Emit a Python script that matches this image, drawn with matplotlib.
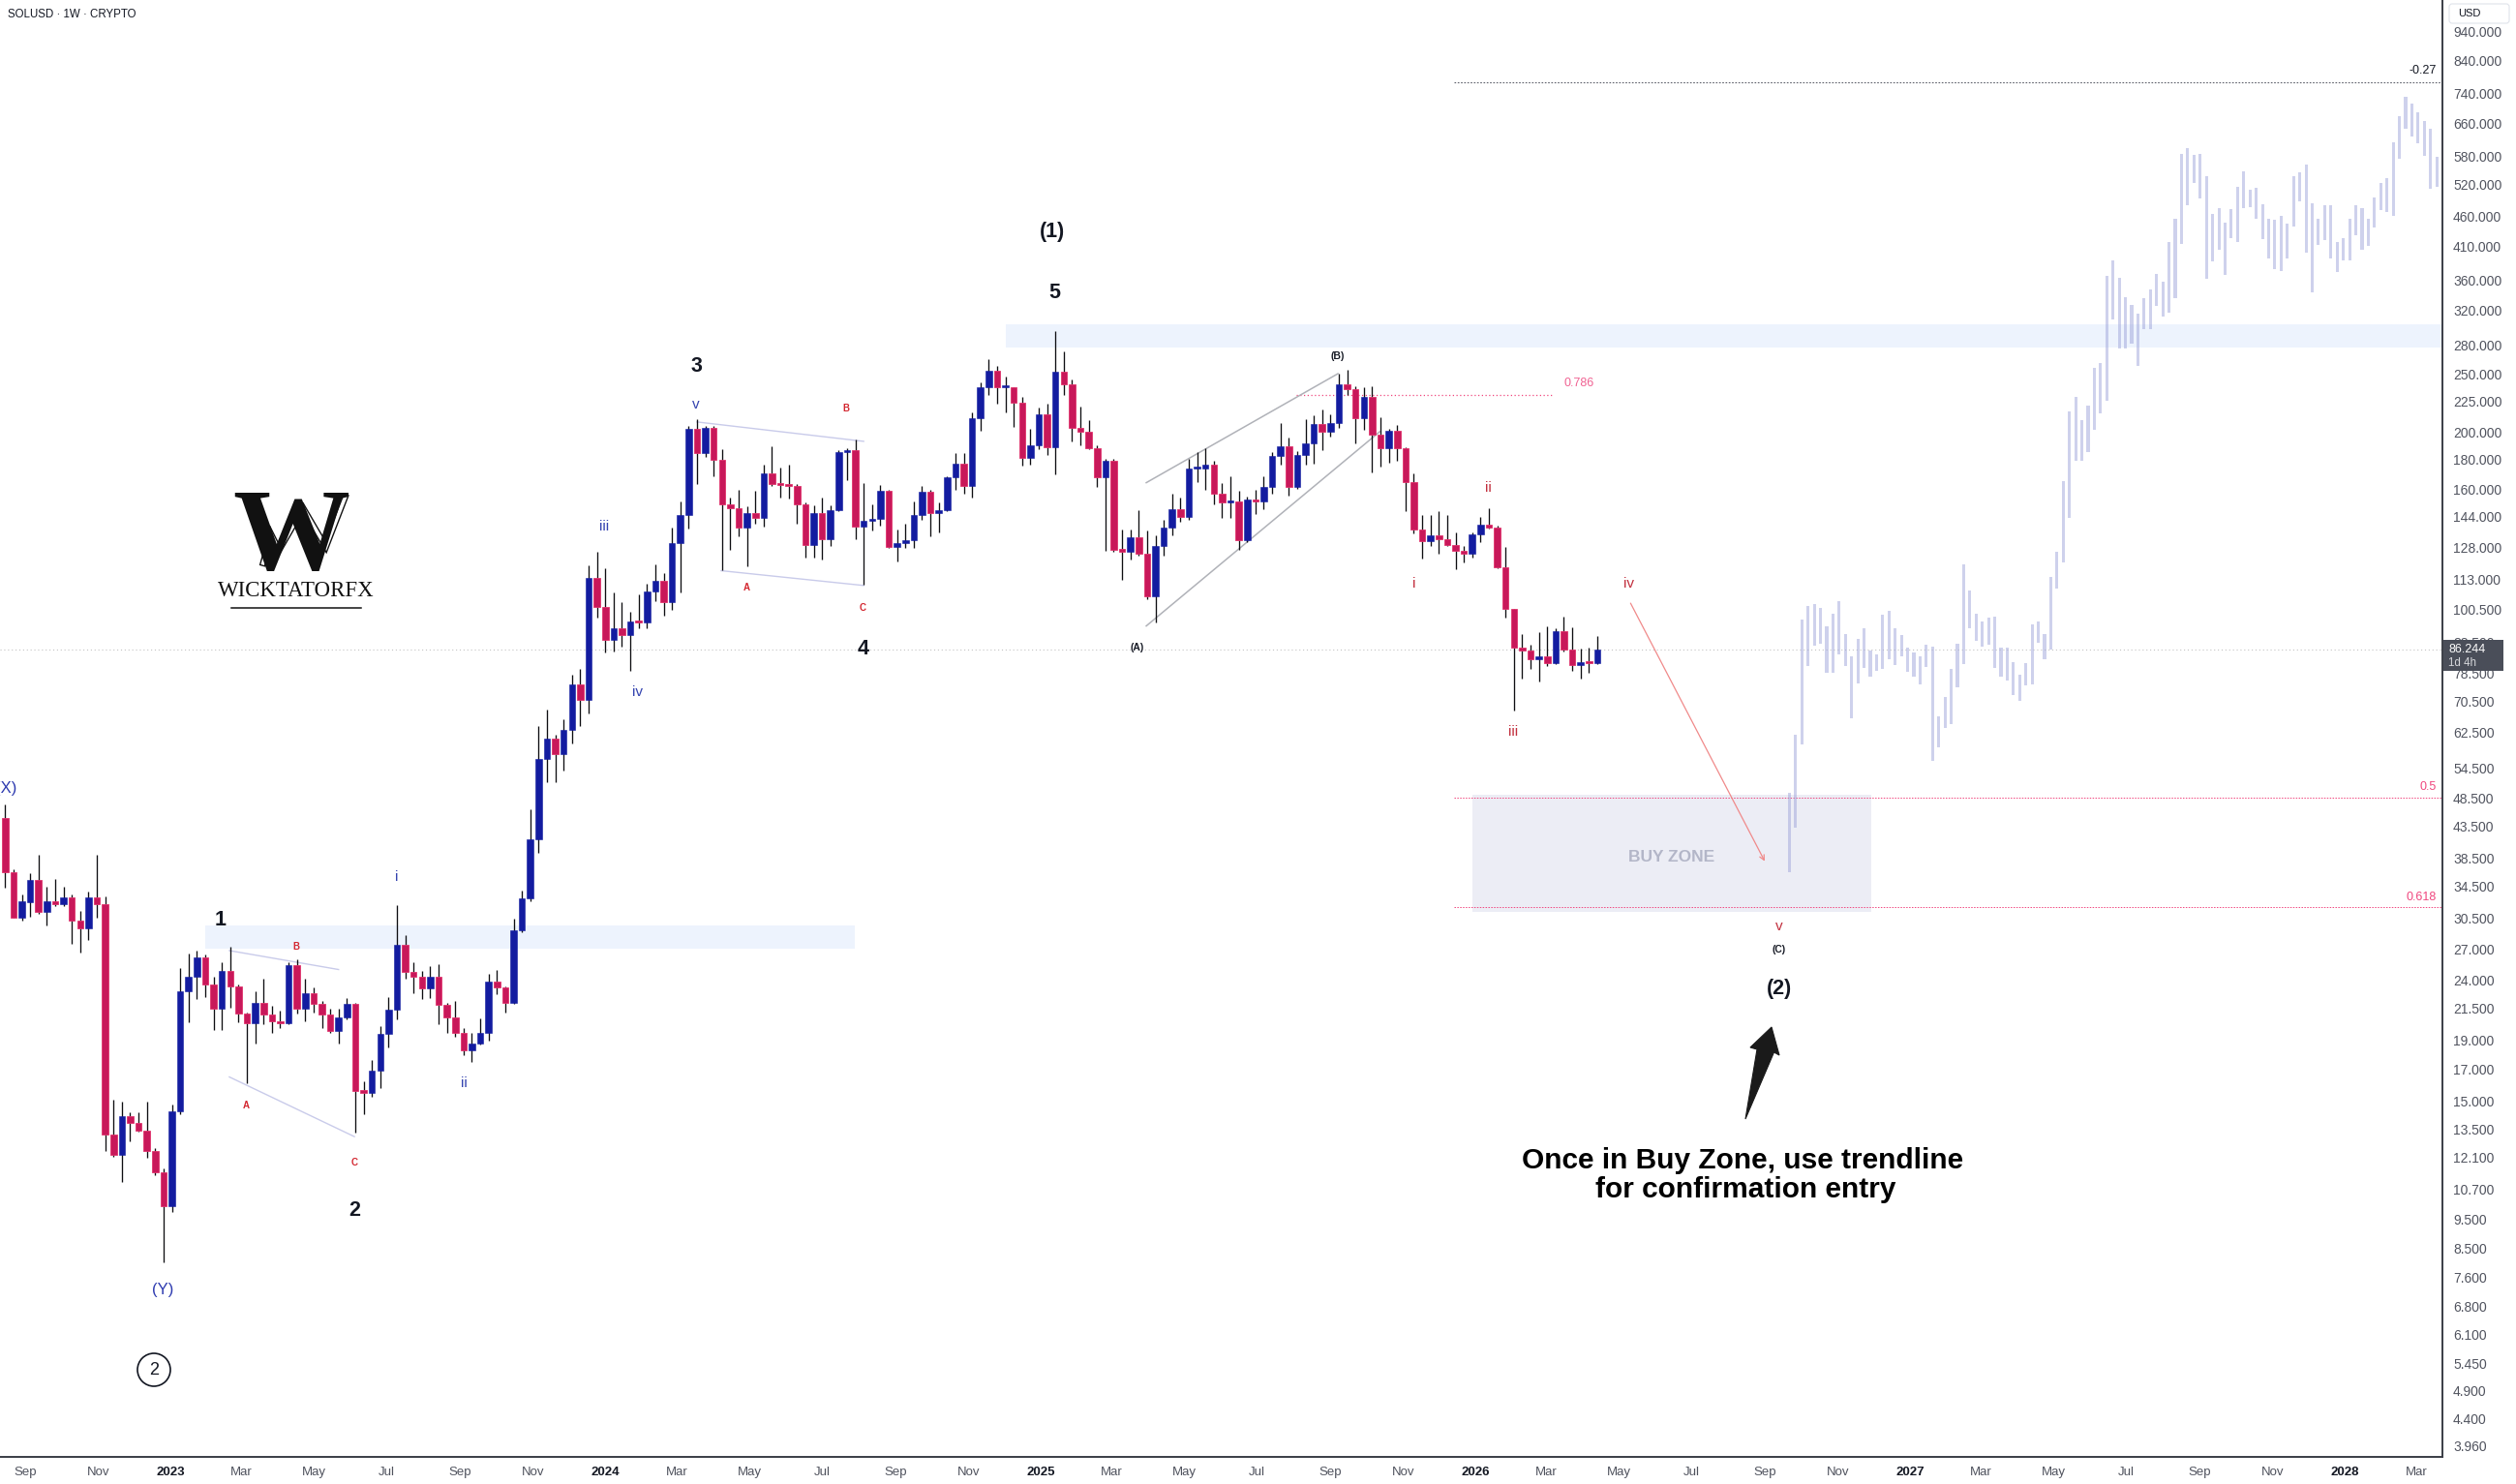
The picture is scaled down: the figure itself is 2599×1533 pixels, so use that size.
import datetime as dt
import numpy as np
import matplotlib
matplotlib.use("Agg")
import matplotlib.pyplot as plt
import matplotlib.patheffects as pe
from matplotlib.patches import Polygon, Circle, Rectangle, FancyBboxPatch
from matplotlib.ticker import NullLocator

W_PX, H_PX = 2599, 1533
START = dt.date(2022, 8, 15)  # first weekly candle (x = 0)

# ---- weekly SOLUSD candles ----
opens = [
    44.9, 36.4, 30.6, 32.4, 35.3, 31.3, 32.6, 32.2, 33.0, 30.2,
    29.3, 33.0, 32.2, 13.2, 12.2, 14.2, 13.8, 13.4, 12.4, 11.4,
    10.0, 14.45, 23.0, 24.3, 26.2, 23.6, 21.5, 24.9, 23.4, 21.1,
    20.3, 22.0, 21.0, 20.5, 20.3, 25.4, 21.5, 22.8, 21.9, 21.0,
    19.7, 20.8, 21.9, 15.7, 15.5, 16.9, 19.5, 21.4, 27.5, 24.8,
    24.3, 23.2, 24.3, 21.8, 20.8, 19.6, 18.3, 18.8, 19.6, 23.9,
    23.3, 22.0, 29.1, 32.9, 41.4, 56.4, 61.1, 57.5, 63.2, 75.2,
    70.8, 113.6, 101.7, 89.5, 93.7, 91.2, 96.1, 95.8, 107.9, 112.3,
    103.6, 130.3, 144.9, 202.0, 184.0, 203.3, 179.8, 151.3, 148.9, 138.0,
    145.9, 143.6, 170.1, 163.3, 163.0, 162.1, 151.3, 129.0, 146.0, 132.1,
    148.0, 185.0, 186.0, 138.7, 141.7, 142.9, 159.2, 128.3, 130.3, 131.4,
    145.1, 158.6, 146.0, 147.6, 167.8, 176.7, 162.1, 210.6, 237.7, 253.1,
    237.4, 237.6, 224.2, 180.6, 189.9, 213.8, 188.7, 252.4, 240.6, 203.3,
    200.3, 188.0, 168.0, 178.8, 126.6, 126.0, 133.0, 124.7, 106.0, 128.7,
    138.1, 148.4, 143.9, 173.5, 173.6, 176.2, 157.5, 152.2, 153.0, 131.7,
    154.0, 152.9, 161.4, 182.2, 189.2, 161.8, 182.9, 191.5, 206.4, 200.3,
    207.2, 240.6, 236.2, 211.1, 229.0, 197.6, 188.0, 200.9, 187.6, 164.5,
    137.2, 130.9, 133.9, 132.2, 129.3, 126.1, 125.0, 134.4, 139.7, 138.1,
    118.6, 100.7, 86.9, 85.96, 82.9, 83.8, 81.7, 92.4, 86.3, 81.3,
    82.1, 81.8,
]
highs = [
    47.4, 36.8, 33.4, 36.3, 39.0, 34.5, 35.5, 34.5, 33.4, 31.4,
    33.8, 38.9, 33.2, 15.1, 15.0, 14.4, 14.4, 15.0, 12.55, 11.6,
    14.85, 25.1, 26.6, 26.9, 26.5, 24.3, 25.7, 27.3, 23.6, 21.2,
    23.0, 24.1, 21.7, 21.3, 25.7, 26.0, 24.1, 23.3, 22.1, 21.5,
    21.5, 22.4, 22.0, 16.2, 17.6, 20.1, 22.5, 32.1, 28.6, 25.7,
    24.9, 25.3, 25.5, 22.0, 22.1, 19.9, 19.6, 20.7, 24.6, 25.0,
    23.4, 30.4, 33.9, 46.5, 64.1, 68.3, 62.0, 65.8, 78.1, 80.0,
    119.5, 126.0, 117.8, 107.6, 103.5, 99.7, 106.6, 111.1, 119.9, 115.9,
    137.9, 152.7, 205.0, 209.7, 204.6, 205.0, 187.3, 155.2, 160.1, 149.9,
    159.0, 176.3, 188.8, 174.0, 176.3, 163.3, 152.0, 150.5, 155.0, 150.5,
    186.0, 188.0, 194.4, 164.1, 151.3, 162.7, 159.6, 137.3, 140.3, 152.7,
    162.1, 159.6, 152.3, 168.5, 184.0, 184.0, 215.7, 242.2, 265.0, 258.5,
    247.7, 238.0, 229.0, 202.1, 219.8, 223.4, 295.3, 272.8, 245.2, 220.6,
    209.3, 189.9, 180.0, 180.5, 136.9, 136.9, 147.9, 136.7, 134.2, 142.5,
    157.5, 154.9, 180.2, 185.2, 188.0, 178.9, 163.8, 168.3, 159.1, 155.5,
    160.1, 168.3, 185.2, 207.2, 195.9, 185.9, 210.3, 213.0, 218.3, 213.8,
    250.5, 254.6, 238.3, 237.7, 238.3, 211.4, 202.5, 205.4, 188.7, 170.1,
    145.1, 145.0, 147.1, 145.0, 135.6, 128.6, 135.6, 144.0, 148.9, 139.0,
    128.1, 101.0, 91.5, 87.8, 92.1, 94.4, 93.7, 98.0, 93.8, 86.4,
    86.9, 90.7,
]
lows = [
    34.3, 30.5, 30.2, 30.7, 31.0, 29.6, 32.0, 32.0, 27.6, 26.7,
    28.0, 30.6, 12.4, 12.1, 11.0, 12.85, 13.35, 12.06, 11.3, 8.05,
    9.8, 14.3, 20.4, 22.3, 22.5, 19.8, 19.8, 21.6, 20.4, 16.1,
    18.8, 20.2, 19.6, 19.9, 20.2, 21.1, 20.5, 21.2, 19.9, 19.6,
    18.8, 20.6, 13.3, 14.3, 15.3, 15.8, 18.5, 20.6, 24.1, 22.8,
    22.3, 22.4, 20.2, 19.6, 19.3, 17.95, 17.5, 18.7, 19.0, 22.7,
    21.2, 21.9, 28.9, 32.6, 39.3, 51.6, 51.6, 54.0, 59.9, 64.0,
    67.3, 97.6, 85.3, 85.6, 87.2, 79.3, 93.5, 93.6, 104.1, 98.4,
    100.6, 107.5, 137.5, 163.3, 181.5, 168.5, 117.3, 126.8, 133.7, 119.0,
    140.3, 138.6, 162.1, 155.0, 154.5, 140.3, 123.2, 123.2, 122.1, 128.6,
    147.0, 166.0, 132.1, 110.6, 136.8, 139.3, 127.6, 121.0, 127.6, 127.6,
    142.4, 133.7, 135.8, 147.0, 159.6, 157.6, 155.3, 200.5, 230.4, 222.8,
    215.7, 204.1, 175.5, 176.2, 186.8, 182.9, 169.7, 230.4, 193.0, 189.9,
    186.9, 161.4, 126.1, 125.8, 112.7, 122.2, 124.0, 104.6, 95.8, 123.9,
    134.2, 141.2, 142.4, 164.9, 160.0, 151.3, 143.6, 143.3, 126.6, 130.5,
    145.7, 148.5, 157.5, 176.2, 156.5, 160.5, 176.2, 176.6, 186.5, 196.4,
    203.0, 230.4, 191.5, 201.6, 171.2, 175.0, 177.6, 178.9, 147.1, 134.9,
    122.4, 128.6, 124.7, 128.5, 117.5, 120.8, 123.0, 130.5, 137.5, 117.8,
    97.4, 68.0, 77.0, 80.1, 76.1, 80.8, 81.5, 85.5, 79.5, 77.1,
    78.8, 81.5,
]
closes = [
    36.4, 30.6, 32.5, 35.3, 31.3, 32.6, 32.2, 33.0, 30.2, 29.3,
    33.0, 32.2, 13.2, 12.2, 14.2, 13.8, 13.4, 12.4, 11.4, 10.0,
    14.45, 23.0, 24.3, 26.2, 23.6, 21.5, 24.9, 23.4, 21.1, 20.3,
    22.0, 21.0, 20.5, 20.3, 25.4, 21.5, 22.8, 21.9, 21.0, 19.7,
    20.8, 21.9, 15.6, 15.5, 16.9, 19.5, 21.4, 27.5, 24.8, 24.3,
    23.2, 24.3, 21.8, 20.8, 19.6, 18.3, 18.8, 19.6, 23.9, 23.3,
    22.0, 29.1, 32.9, 41.4, 56.4, 61.1, 57.5, 63.2, 75.2, 70.8,
    113.6, 101.7, 89.5, 93.7, 91.2, 96.1, 95.8, 107.9, 112.3, 103.6,
    130.3, 144.9, 202.0, 184.0, 203.3, 179.8, 151.3, 148.9, 138.0, 145.9,
    143.6, 170.1, 163.3, 163.0, 162.1, 151.3, 129.0, 146.0, 132.1, 148.0,
    185.0, 186.0, 138.7, 141.7, 142.9, 159.2, 128.3, 130.3, 131.4, 145.1,
    158.6, 146.0, 147.6, 167.8, 176.7, 162.1, 210.6, 237.7, 253.1, 237.4,
    237.6, 224.2, 180.6, 189.9, 213.8, 188.7, 252.4, 240.6, 203.3, 200.3,
    188.0, 168.0, 178.8, 126.6, 126.0, 133.0, 124.7, 106.0, 128.7, 138.1,
    148.4, 143.9, 173.5, 173.6, 176.2, 157.5, 152.2, 153.0, 131.7, 154.0,
    152.9, 161.4, 182.2, 189.2, 161.8, 182.9, 191.5, 206.4, 200.3, 207.2,
    240.6, 236.2, 211.1, 229.0, 197.6, 188.0, 200.9, 187.6, 164.5, 137.2,
    130.9, 133.9, 132.2, 129.3, 126.1, 125.0, 134.4, 139.7, 138.1, 118.6,
    100.7, 86.9, 85.96, 82.9, 83.8, 81.7, 92.4, 86.3, 81.3, 82.1,
    81.8, 86.244,
]

# ---- projected path (light bars): low / high of each bar ----
proj_lo = [
    36.4, 43.3, 59.7, 81.0, 87.6, 88.1, 78.8, 78.8, 84.6, 81.0,
    66.0, 75.6, 80.3, 77.6, 79.4, 80.0, 83.0, 81.1, 83.9, 79.1,
    77.6, 75.3, 80.6, 56.0, 59.1, 63.6, 64.6, 74.5, 81.6, 93.5,
    89.1, 87.2, 87.8, 80.3, 77.6, 76.4, 72.3, 70.6, 75.0, 75.3,
    88.4, 83.0, 86.2, 109.1, 120.5, 143.4, 178.9, 178.9, 184.9, 201.6,
    215.2, 225.2, 308.9, 276.2, 276.2, 281.4, 258.2, 297.6, 297.6, 325.6,
    312.6, 317.3, 335.4, 414.1, 481.3, 524.3, 493.6, 362.0, 386.9, 404.7,
    367.3, 423.1, 416.7, 475.5, 477.2, 456.7, 421.5, 391.3, 375.5, 372.7,
    391.3, 441.8, 488.1, 400.3, 343.1, 412.5, 419.9, 391.3, 371.3, 388.5,
    388.5, 428.0, 404.7, 411.0, 440.1, 472.0, 468.4, 461.8, 574.8, 646.2,
    626.9, 610.0, 581.7, 513.0, 515.0, 537.9,
]
proj_hi = [
    49.6, 62.0, 96.8, 102.0, 102.7, 101.2, 94.3, 99.0, 103.9, 91.5,
    83.9, 89.8, 93.5, 85.8, 84.6, 98.6, 100.1, 93.5, 91.1, 86.8,
    85.2, 83.9, 87.8, 87.2, 66.6, 71.7, 80.0, 88.1, 119.9, 108.3,
    99.0, 96.1, 97.5, 97.9, 86.8, 86.8, 82.1, 78.2, 81.8, 94.9,
    96.1, 91.5, 114.1, 125.8, 165.5, 216.5, 229.0, 209.3, 221.3, 256.2,
    261.2, 366.0, 388.5, 363.2, 336.7, 327.0, 316.1, 335.4, 347.0, 368.6,
    358.0, 417.0, 456.7, 586.1, 599.4, 583.9, 586.1, 537.9, 464.7, 475.5,
    448.5, 473.6, 516.3, 548.0, 510.5, 514.4, 482.9, 455.7, 454.0, 461.8,
    446.8, 537.9, 546.1, 561.6, 484.5, 455.7, 481.3, 481.3, 416.7, 423.1,
    456.7, 479.7, 475.5, 456.7, 495.4, 524.3, 534.0, 613.1, 678.2, 730.8,
    711.2, 688.8, 665.7, 646.2, 579.5, 621.4,
]

price_ticks = [940, 840, 740, 660, 580, 520, 460, 410, 360, 320, 280, 250,
               225, 200, 180, 160, 144, 128, 113, 100.5, 88.5, 78.5, 70.5,
               62.5, 54.5, 48.5, 43.5, 38.5, 34.5, 30.5, 27, 24, 21.5, 19,
               17, 15, 13.5, 12.1, 10.7, 9.5, 8.5, 7.6, 6.8, 6.1, 5.45, 4.9,
               4.4, 3.96]

last_price = 86.244
fib_top, fib_half, fib_618, fib_786 = 774.0, 48.6, 31.8, 230.4

# trendlines as (week, price) pairs
abc_lines = [((26.9, 26.9), (40.0, 25.0)), ((26.9, 16.5), (41.9, 13.1)),
             ((83.0, 207.8), (103.0, 192.8)), ((85.9, 116.9), (103.0, 110.4))]
wedge_lines = [((136.9, 164.3), (159.9, 250.5)), ((136.9, 94.4), (164.9, 200.1))]
path_arrow = ((195.0, 103.1), (211.1, 38.0))

# zones: (week from, week to, price low, price high)
zone_2023 = (24.0, 101.9, 27.1, 29.6)
zone_top = (120.0, 292.4, 277.5, 303.1)
buy_zone = (176.0, 223.9, 31.3, 49.1)

BLUE = "#131CA0"
RED = "#C8185A"
RED_EDGE = "#E0336C"
PINK = "#F0467E"
DARK = "#131722"
AXIS_TXT = "#50535E"

plt.rcParams["font.family"] = ["Liberation Sans", "DejaVu Sans"]

fig = plt.figure(figsize=(W_PX / 100, H_PX / 100), dpi=100, facecolor="white")
ax = fig.add_axes([0, 1 - 1505 / H_PX, 2523 / W_PX, 1505 / H_PX])
ax.set_yscale("log")
XMIN, XMAX = -0.616, 292.4
ax.set_xlim(XMIN, XMAX)
ax.set_ylim(3.796, 1062.6)

# zones
for x0, x1, lo, hi in (zone_2023, zone_top):
    ax.add_patch(Rectangle((x0, lo), x1 - x0, hi - lo, color="#EDF3FD", lw=0, zorder=0.5))
x0, x1, lo, hi = buy_zone
ax.add_patch(Rectangle((x0, lo), x1 - x0, hi - lo, color="#ECEDF5", lw=0, zorder=0.6))
ax.text((x0 + x1) / 2, np.sqrt(lo * hi) * 0.985, "BUY ZONE", ha="center", va="center",
        fontsize=12.5, fontweight="bold", color="#B3B6C8", zorder=0.7)

# fib levels / price line
ax.axhline(last_price, color="#C4C4C4", lw=0.8, ls=(0, (1, 2.5)), zorder=1)
ax.hlines(fib_top, 173.8, XMAX, color="#5D606B", lw=0.8, ls=(0, (1.5, 1.5)), zorder=1)
ax.hlines([fib_half, fib_618], 173.8, XMAX, color=PINK, lw=0.7, ls=(0, (1.5, 1.5)), zorder=1)
ax.hlines(fib_786, 154.9, 185.7, color=PINK, lw=0.9, ls=(0, (1, 2)), zorder=1)

for (xa, ya), (xb, yb) in abc_lines:
    ax.plot([xa, xb], [ya, yb], color="#C9CBEA", lw=1.0, zorder=2)
for (xa, ya), (xb, yb) in wedge_lines:
    ax.plot([xa, xb], [ya, yb], color="#B0B2B8", lw=1.1, zorder=2)
(xa, ya), (xb, yb) = path_arrow
ax.annotate("", xy=(xb, yb), xytext=(xa, ya),
            arrowprops=dict(arrowstyle="->", color="#F08A8A", lw=0.9,
                            mutation_scale=9, shrinkA=0, shrinkB=0), zorder=2)

# projected bars
px = 214.05 + 0.7468 * np.arange(len(proj_lo))
plo = np.array(proj_lo)
phi = np.array(proj_hi)
ax.bar(px, phi - plo, bottom=plo, width=0.36, color="#9FA5DA", alpha=0.5, lw=0, zorder=2)

# candles
o = np.array(opens)
h = np.array(highs)
l = np.array(lows)
c = np.array(closes)
x = np.arange(len(c))
up = c >= o
ax.vlines(x, l, h, color="#0E0E12", lw=0.95, zorder=3)
b_lo = np.minimum(o, c)
b_hi = np.maximum(np.maximum(o, c), b_lo * 1.008)
ax.bar(x[up], (b_hi - b_lo)[up], bottom=b_lo[up], width=0.76, color=BLUE,
       edgecolor=BLUE, lw=0.4, zorder=4)
ax.bar(x[~up], (b_hi - b_lo)[~up], bottom=b_lo[~up], width=0.76, color=RED,
       edgecolor=RED_EDGE, lw=0.6, zorder=4)

# axes styling
for side in ("top", "left"):
    ax.spines[side].set_visible(False)
for side in ("right", "bottom"):
    ax.spines[side].set_color("#3A3D45")
    ax.spines[side].set_linewidth(1.4)
ax.yaxis.tick_right()
ax.set_yticks(price_ticks)
ax.set_yticklabels([f"{t:.3f}" for t in price_ticks])
ax.yaxis.set_minor_locator(NullLocator())
ax.tick_params(axis="y", length=0, pad=8, labelsize=10, labelcolor=AXIS_TXT)

tick_dates = []
yy, mm = 2022, 9
while (yy, mm) <= (2028, 3):
    tick_dates.append(dt.date(yy, mm, 1))
    mm += 2
    if mm > 12:
        mm -= 12
        yy += 1
ax.set_xticks([(d - START).days / 7 for d in tick_dates])
ax.set_xticklabels([str(d.year) if d.month == 1 else d.strftime("%b") for d in tick_dates])
ax.xaxis.set_minor_locator(NullLocator())
ax.tick_params(axis="x", length=0, pad=7, labelsize=9.5, labelcolor=AXIS_TXT)
for lab, d in zip(ax.get_xticklabels(), tick_dates):
    if d.month == 1:
        lab.set_fontweight("bold")
        lab.set_color(DARK)

# ---- overlay in pixel coordinates for labels and drawings ----
ov = fig.add_axes([0, 0, 1, 1])
ov.set_xlim(0, W_PX)
ov.set_ylim(H_PX, 0)
ov.axis("off")
ov.patch.set_alpha(0)

ov.text(8, 15, "SOLUSD · 1W · CRYPTO", fontsize=8.3, color=DARK, va="center")
ov.add_patch(FancyBboxPatch((2530, 4), 62, 20, boxstyle="round,pad=0,rounding_size=3",
                            fc="white", ec="#E0E3EB", lw=0.8))
ov.text(2539, 14, "USD", fontsize=8, color=DARK, va="center")
ov.add_patch(Rectangle((2524, 661), 62, 32, color="#4A4E59", lw=0))
ov.text(2529, 670.5, f"{last_price:.3f}", fontsize=9, color="white", va="center")
ov.text(2529, 684.5, "1d 4h", fontsize=8.3, color="#D6D7DB", va="center")

ov.text(2517, 73, "-0.27", fontsize=9, color=DARK, ha="right", va="center")
ov.text(2517, 813, "0.5", fontsize=9, color=PINK, ha="right", va="center")
ov.text(2517, 927, "0.618", fontsize=9, color=PINK, ha="right", va="center")
ov.text(1631, 396, "0.786", fontsize=9, color="#F06292", ha="center", va="center")

big = dict(fontsize=15.5, fontweight="bold", color=DARK, ha="center", va="center")
for s, xx, yy_ in [("(1)", 1087, 240), ("5", 1089, 302), ("3", 719, 378), ("4", 892, 671),
                   ("1", 228, 950), ("2", 366, 1251), ("(2)", 1838, 1021)]:
    ov.text(xx, yy_, s, **big)

wave_blue = dict(fontsize=11, color="#3544B0", ha="center", va="center")
for s, xx, yy_ in [("i", 410, 906), ("ii", 479, 1119), ("iii", 624, 544),
                   ("iv", 659, 715), ("v", 719, 418)]:
    ov.text(xx, yy_, s, **wave_blue)
ov.text(168, 1332, "(Y)", fontsize=12, color="#2E3BB0", ha="center", va="center")
ov.text(17, 814, "(X)", fontsize=12, color="#2E3BB0", ha="right", va="center")

abc_red = dict(fontsize=7, fontweight="bold", color="#D3262F", ha="center", va="center")
for s, xx, yy_ in [("B", 306, 978), ("A", 254, 1142), ("C", 366, 1201),
                   ("A", 771, 607), ("B", 874, 422), ("C", 891, 628)]:
    ov.text(xx, yy_, s, **abc_red)

abc_black = dict(fontsize=7.5, fontweight="bold", color=DARK, ha="center", va="center")
for s, xx, yy_ in [("(A)", 1175, 669), ("(B)", 1382, 368), ("(C)", 1838, 981)]:
    ov.text(xx, yy_, s, **abc_black)

wave_red = dict(fontsize=11, color="#C2303F", ha="center", va="center")
for s, xx, yy_ in [("i", 1461, 603), ("ii", 1537, 504), ("iii", 1563, 756),
                   ("iv", 1683, 603), ("v", 1838, 957)]:
    ov.text(xx, yy_, s, **wave_red)

ov.add_patch(Circle((159, 1415), 17, fill=False, ec=DARK, lw=1.2))
ov.text(159, 1416, "2", fontsize=13, color=DARK, ha="center", va="center")

# black pointer arrow and note
ov.add_patch(Polygon([(1803, 1156), (1815, 1084), (1808, 1082), (1830, 1061),
                      (1838, 1090), (1832.5, 1087)], closed=True, fc="#1A1A1A", ec="#1A1A1A", lw=0.8))
ov.text(1800, 1207, "Once in Buy Zone, use trendline", fontsize=21.5, fontweight="bold",
        color="black", ha="center", va="baseline")
ov.text(1803, 1237, "for confirmation entry", fontsize=21.5, fontweight="bold",
        color="black", ha="center", va="baseline")

# logo
ov.text(301, 588, "W", fontsize=87, fontweight="bold", family="Liberation Serif",
        color="#111111", ha="center", va="baseline")
zig_x = [271.7, 280, 288.3, 313.3, 336.7, 356.7]
zig_y = [581.7, 551.7, 568.3, 525, 565, 513.3]
ov.plot(zig_x, zig_y, color="white", lw=2.6, solid_joinstyle="miter",
        path_effects=[pe.Stroke(linewidth=4.6, foreground="#111111"), pe.Normal()])
ov.text(305.5, 610, "WICKTATORFX", fontsize=16.5, family="Liberation Serif",
        color="#111111", ha="center", va="center")
ov.plot([239, 373], [628, 628], color="#111111", lw=1.1)

fig.savefig("out.png", dpi=100, facecolor="white")
